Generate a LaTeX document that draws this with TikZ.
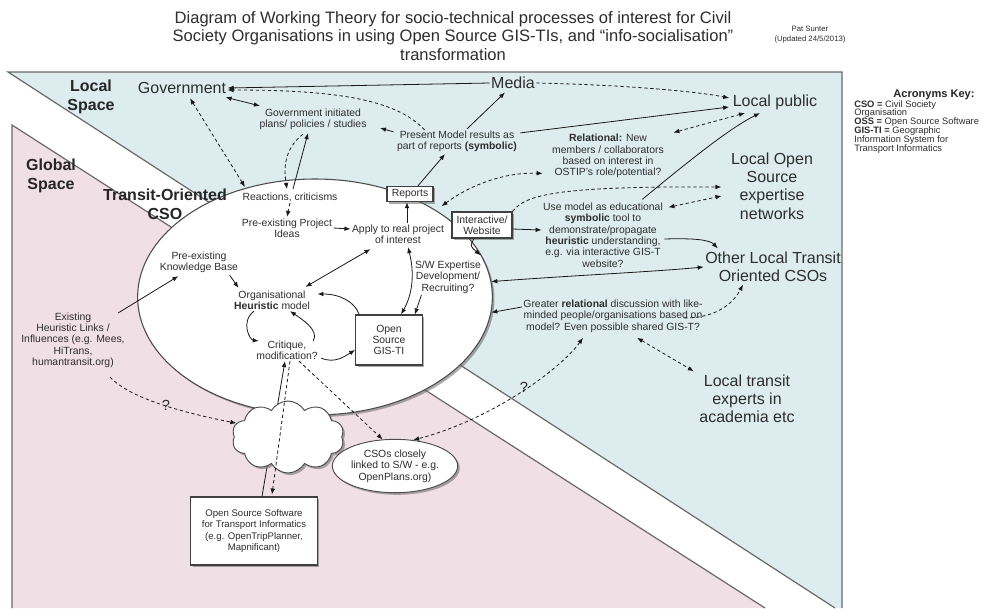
\documentclass[tikz,border=0pt]{standalone}
\usepackage{fontspec}
\setmainfont{Liberation Sans}
\usetikzlibrary{arrows.meta,shapes.geometric,shapes.symbols,shadows,calc}
\definecolor{bluebg}{RGB}{221,236,239}
\definecolor{pinkbg}{RGB}{240,223,228}
\definecolor{edgegray}{RGB}{105,105,105}
\definecolor{txtc}{RGB}{45,45,45}
\definecolor{linec}{RGB}{25,25,25}
\begin{document}
\begin{tikzpicture}[x=0.75pt,y=-0.75pt,
  >={Latex[length=4.5pt,width=3.5pt]},
  sl/.style={draw=linec,line width=0.6pt},
  dl/.style={draw=linec,line width=0.6pt,dash pattern=on 2.5pt off 2pt},
  txt/.style={text=txtc,align=center,inner sep=1pt,font=\fontsize{7.8}{8.5}\selectfont},
  big/.style={text=txtc,align=center,inner sep=1pt,font=\fontsize{12}{13.7}\selectfont},
  bigb/.style={text=black!85,align=center,inner sep=1pt,font=\fontsize{12}{14}\selectfont\bfseries},
  shad/.style={drop shadow={shadow xshift=1.6pt,shadow yshift=-1.6pt,opacity=0.55,fill=black!60}},
  boxn/.style={draw=black!75,line width=0.8pt,fill=white,shad,txt,inner sep=0pt},
  qmark/.style={text=txtc,inner sep=0pt,font=\fontsize{11}{12}\selectfont},
]
\useasboundingbox (0,0) rectangle (1000,608);
\fill[white] (0,0) rectangle (1000,608);
% regions
\fill[bluebg] (8,72) -- (842,72) -- (842,608) -- (835,608) -- cycle;
\draw[edgegray,line width=0.9pt] (835,608) -- (8,72) -- (842,72) -- (842,608);
\fill[pinkbg] (12,125) -- (765,608) -- (12,608) -- cycle;
\draw[edgegray,line width=0.9pt] (765,608) -- (12,125) -- (12,608);

% header
\node[align=center,text=txtc,inner sep=0pt,font=\fontsize{12.4}{13.9}\selectfont] (title) at (453,36)
  {Diagram of Working Theory for socio-technical processes of interest for Civil\\Society Organisations in using Open Source GIS-TIs, and ``info-socialisation''\\transformation};
\node[align=center,text=txtc,inner sep=0pt,font=\fontsize{5.8}{7.5}\selectfont] (author) at (810,35)
  {Pat Sunter\\(Updated 24/5/2013)};
\node[text=black!85,inner sep=0pt,font=\fontsize{8.3}{9}\selectfont\bfseries] (acrh) at (934,95) {Acronyms Key:};
\node[anchor=north west,align=left,text=txtc,inner sep=0pt,font=\fontsize{7}{6.6}\selectfont] (acrb) at (854,100)
  {\textbf{CSO =} Civil Society\\Organisation\\\textbf{OSS =} Open Source Software\\\textbf{GIS-TI =} Geographic\\Information System for\\Transport Informatics};

% main ellipse
\node[ellipse,draw=black!70,line width=0.8pt,fill=white,shad,minimum width=266pt,minimum height=177pt,inner sep=0pt] (cso) at (315,297) {};

% region labels
\node[bigb] (localsp) at (91,97) {Local\\Space};
\node[bigb] (globalsp) at (51,176) {Global\\Space};
\node[bigb] (tocso) at (165,204) {Transit-Oriented\\CSO};

% big labels
\node[big] (gov) at (182,88) {Government};
\node[big] (media) at (513,83) {Media};
\node[big] (lpub) at (775,102) {Local public};
\node[big] (lopen) at (772,186) {Local Open\\Source\\expertise\\networks};
\node[big] (oltc) at (773,267) {Other Local Transit\\Oriented CSOs};
\node[big] (ltexp) at (747,399) {Local transit\\experts in\\academia etc};

% small texts
\node[txt] (gip) at (313,119) {Government initiated\\plans/ policies / studies};
\node[txt] (pm) at (457,141) {Present Model results as\\part of reports \textbf{(symbolic)}};
\node[txt] (rel) at (608,156) {\textbf{Relational:} New\\members / collaborators\\based on interest in\\OSTIP's role/potential?};
\node[txt] (use) at (603,235) {Use model as educational\\\textbf{symbolic} tool to\\demonstrate/propagate\\\textbf{heuristic} understanding,\\e.g. via interactive GIS-T\\website?};
\node[txt] (greater) at (613,316) {Greater \textbf{relational} discussion with like-\\minded people/organisations based on\\model? Even possible shared GIS-T?};
\node[txt] (react) at (290,197) {Reactions, criticisms};
\node[txt] (ppi) at (287,228) {Pre-existing Project\\Ideas};
\node[txt] (apply) at (398,234) {Apply to real project\\of interest};
\node[txt] (pkb) at (199,262) {Pre-existing\\Knowledge Base};
\node[txt] (org) at (272,300) {Organisational\\\textbf{Heuristic} model};
\node[txt] (crit) at (287,350) {Critique,\\modification?};
\node[txt] (swe) at (448,277) {S/W Expertise\\Development/\\Recruiting?};
\node[txt] (ehl) at (73,340) {Existing\\Heuristic Links /\\Influences (e.g. Mees,\\HiTrans,\\humantransit.org)};

% boxes
\node[boxn,minimum width=34.5pt,minimum height=11.5pt] (reports) at (410,194) {Reports};
\node[boxn,minimum width=45pt,minimum height=19.5pt] (web) at (482,225) {Interactive/\\Website};
\node[boxn,minimum width=50pt,minimum height=37.5pt] (gis) at (389,340) {Open\\Source\\GIS-TI};
\node[boxn,minimum width=95pt,minimum height=51pt,font=\fontsize{7.2}{8.7}\selectfont] (oss) at (254,531)
  {Open Source Software\\for Transport Informatics\\(e.g. OpenTripPlanner,\\Mapnificant)};

% solid link OSS -> critique (behind the cloud)
\draw[sl,->] ($(oss.north)+(8,0)$) -- ($(crit.south)+(-2,0)$);

% cloud and small ellipse
\node[cloud,cloud puffs=10,cloud puff arc=120,cloud ignores aspect,draw=black!70,line width=0.7pt,fill=white,shad,minimum width=84pt,minimum height=54pt,inner sep=0pt] (cl) at (288,437) {};
\node[ellipse,draw=black!70,line width=0.7pt,fill=white,shad,txt,minimum width=94pt,minimum height=40pt,inner sep=0pt] (csos) at (395,466) {CSOs closely\\linked to S/W - e.g.\\OpenPlans.org)};

% connectors, local space
\draw[sl,->] (media.west) -- (gov.east);
\draw[dl,->] ($(pm.north west)+(29,1)$) .. controls (395,98) and (330,90) .. ($(gov.east)+(0,2)$);
\draw[sl,<->] ($(gov.south east)+(-2,2)$) -- ($(gip.north west)+(2,-1)$);
\draw[dl,<->] ($(gov.south)+(8,3)$) -- ($(react.north west)+(4,-4)$);
\draw[sl,->] ($(react.north)+(3,-2)$) -- ($(gip.south)+(-5,2)$);
\draw[dl,->] ($(gip.south)+(-10,3)$) .. controls (283,150) and (284,170) .. ($(react.north)+(-3,-2)$);
\draw[sl,->] ($(pm.north west)+(-2,3)$) -- ($(gip.east)+(12,9)$);
\draw[sl,->] ($(pm.north)+(10,0)$) -- ($(media.south)+(-8,2)$);
\draw[sl,->] ($(pm.north east)+(2,4)$) -- ($(lpub.west)+(-2,5)$);
\draw[dl,->] (media.east) .. controls (630,85) and (700,92) .. ($(lpub.west)+(-2,-4)$);
\draw[sl,->] ($(reports.north)+(8,0)$) -- ($(pm.south)+(-12,1)$);
\draw[dl,<->] ($(rel.north east)+(8,0)$) -- ($(lpub.south)+(-30,2)$);
\draw[dl,<->] ($(reports.south east)+(8,4)$) .. controls (470,185) and (505,172) .. ($(rel.south west)+(-8,-6)$);
\draw[dl,->] (web.north east) .. controls (525,195) and (555,186) .. ($(lopen.west)+(-8,1)$);
\draw[dl,<->] ($(use.north east)+(4,6)$) -- ($(lopen.west)+(-8,10)$);
\draw[sl,->] ($(use.north east)+(-22,-2)$) .. controls (690,160) and (730,128) .. ($(lpub.south)+(-15,2)$);
\draw[sl,->] ($(web.east)+(0,4)$) -- ($(use.west)+(0,-5)$);
\draw[sl,->] ($(use.east)+(0,4)$) .. controls (695,238) and (710,240) .. ($(oltc.north west)+(14,-2)$);
\draw[sl,<->] (cso.5) .. controls (580,275) and (650,272) .. (oltc.west);
\draw[sl,->] ($(greater.west)+(0,-9)$) -- (cso.-5);
\draw[dl,->] ($(greater.east)+(-20,2)$) .. controls (720,318) and (735,300) .. ($(oltc.south)+(-30,1)$);
\draw[dl,<->] ($(greater.south)+(24,4)$) -- ($(ltexp.north west)+(-4,-2)$);
\draw[dl,<->] ($(greater.south)+(-30,4)$) .. controls (560,370) and (490,420) .. (csos.55);
\node[qmark] (q2) at (524,387) {?};

% connectors inside the organisation
\draw[dl,->] (react.south) -- (ppi.north);
\draw[sl,->] (ppi.east) -- ($(apply.west)+(0,-5)$);
\draw[sl,->] ($(apply.north)+(9,0)$) -- ($(reports.south)+(-3,0)$);
\draw[sl,<->] ($(apply.south west)+(20,4)$) -- ($(org.north east)+(-6,-2)$);
\draw[sl,->] ($(pkb.south east)+(-10,1)$) -- ($(org.north west)+(6,-1)$);
\draw[sl,->] ($(ehl.north east)+(-8,2)$) -- ($(pkb.south west)+(20,2)$);
\draw[sl,->] ($(org.south)+(-18,0)$) .. controls (240,322) and (250,340) .. ($(crit.north west)+(4,2)$);
\draw[sl,->] ($(crit.north east)+(-6,2)$) .. controls (320,330) and (300,318) .. ($(org.south)+(18,0)$);
\draw[sl,->] ($(gis.north west)+(4,0)$) .. controls (355,302) and (340,294) .. ($(org.east)+(6,-6)$);
\draw[sl,<->] ($(apply.south)+(10,2)$) .. controls (415,275) and (412,295) .. ($(gis.north)+(12,0)$);
\draw[sl,->] ($(swe.south west)+(8,0)$) -- ($(gis.north east)+(-8,0)$);
\draw[sl,->] ($(web.south)+(-8,0)$) .. controls (470,246) .. ($(swe.north east)+(-2,-4)$);
\draw[sl,->] ($(crit.south east)+(2,-3)$) .. controls (335,364) and (345,356) .. ($(gis.west)+(0,10)$);

% global space connectors
\draw[dl,->] ($(crit.south)+(3,0)$) -- ($(oss.north)+(18,-2)$);
\draw[dl,->] ($(crit.south)+(12,0)$) -- (csos.115);
\draw[dl,->] ($(ehl.south)+(37,8)$) .. controls (130,398) and (180,412) .. (cl.165);
\node[qmark] (q1) at (166,405) {?};
\end{tikzpicture}
\end{document}
